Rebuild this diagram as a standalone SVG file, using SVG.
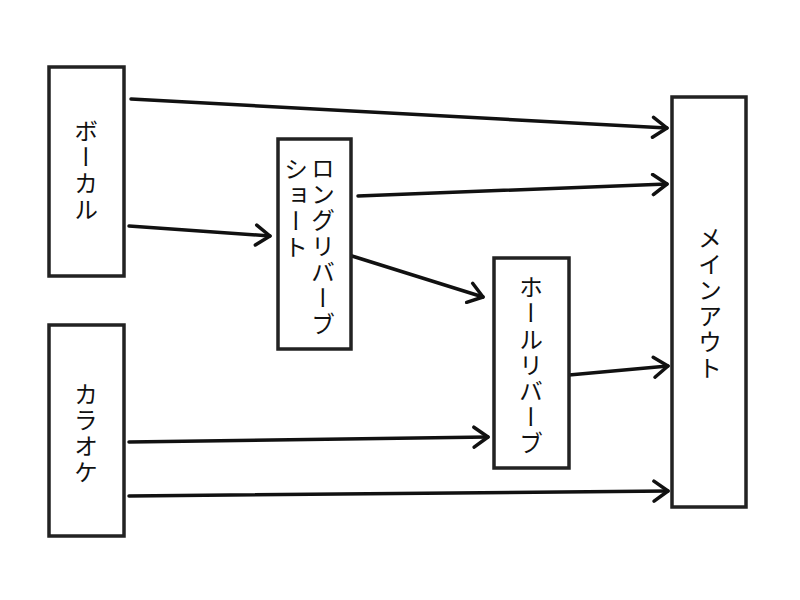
<svg xmlns="http://www.w3.org/2000/svg" width="800" height="600" viewBox="0 0 800 600">
<defs>
<style>
.box{fill:#fff;stroke:#222;stroke-width:3.5}
.lbl{font-family:"Noto Sans CJK JP","Noto Sans",sans-serif;font-size:24px;fill:#111;writing-mode:vertical-rl;text-anchor:middle;letter-spacing:2px}
.conn{stroke:#111;stroke-width:3.5;fill:none;stroke-linecap:round}
</style>
<marker id="ah" viewBox="0 0 20 24" refX="18" refY="12" markerWidth="20" markerHeight="24" markerUnits="userSpaceOnUse" orient="auto">
<path d="M4,2 L18,12 L4,22" fill="none" stroke="#111" stroke-width="3.5" stroke-linecap="round" stroke-linejoin="round"/>
</marker>
</defs>
<rect width="800" height="600" fill="#fff"/>
<g id="connectors">
<line class="conn" x1="131" y1="99" x2="667" y2="128" marker-end="url(#ah)"/>
<line class="conn" x1="129" y1="226" x2="270" y2="236" marker-end="url(#ah)"/>
<line class="conn" x1="358" y1="196" x2="667" y2="184" marker-end="url(#ah)"/>
<line class="conn" x1="352" y1="256" x2="483" y2="297" marker-end="url(#ah)"/>
<line class="conn" x1="569" y1="375" x2="668" y2="366" marker-end="url(#ah)"/>
<line class="conn" x1="129" y1="442" x2="488" y2="437" marker-end="url(#ah)"/>
<line class="conn" x1="129" y1="496" x2="668" y2="491" marker-end="url(#ah)"/>
</g>
<g id="vocal">
<rect class="box" x="49" y="67" width="75" height="209"/>
<text class="lbl" x="86" y="171">ボーカル</text>
</g>
<g id="karaoke">
<rect class="box" x="49" y="325" width="75" height="211"/>
<text class="lbl" x="86" y="434">カラオケ</text>
</g>
<g id="long-reverb">
<rect class="box" x="278" y="139" width="73" height="210"/>
<text class="lbl" x="323" y="247">ロングリバーブ</text>
<text class="lbl" x="296" y="209">ショート</text>
</g>
<g id="hall-reverb">
<rect class="box" x="494" y="258" width="75" height="210"/>
<text class="lbl" x="531" y="366">ホールリバーブ</text>
</g>
<g id="main-out">
<rect class="box" x="672" y="97" width="74" height="410"/>
<text class="lbl" x="710" y="304">メインアウト</text>
</g>
</svg>
